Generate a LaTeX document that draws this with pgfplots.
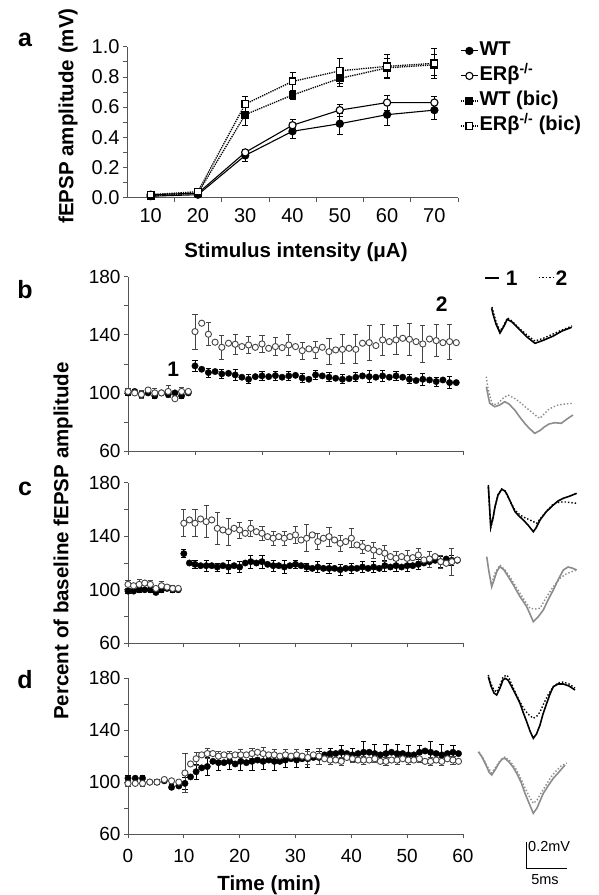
\documentclass[border=0pt]{standalone}
\usepackage{pgfplots}
\pgfplotsset{compat=1.18}
\usepackage{pgfplotstable}
\usepackage{fontspec}
\setmainfont{Liberation Sans}
\definecolor{axgray}{HTML}{555555}
\definecolor{opengray}{HTML}{444444}
\definecolor{tracegray}{HTML}{8C8C8C}
\newcommand{\fs}[1]{\fontsize{#1}{#1}\selectfont}

\pgfplotsset{
  /pgf/number format/assume math mode=true,
  myax/.style={scale only axis, axis lines*=left,
    axis line style={axgray, line width=0.8pt},
    tick style={axgray, line width=0.7pt}, tick align=outside,
    major tick length=4pt, minor tick length=4pt,
    tick label style={font=\fs{19}, black}, clip=false},
  tcax/.style={myax, width=335pt, xmin=0, xmax=60, ymin=60, ymax=180,
    ytick={60,100,140,180}, minor ytick={80,120,160}},
  ebwt/.style={only marks, mark=none, forget plot, each nth point=2, filter discard warning=false,
    unbounded coords=discard,
    error bars/.cd, y dir=both, y explicit,
    error bar style={black, line width=0.8pt},
    error mark options={rotate=90, mark size=2.6pt, line width=0.8pt, black}},
  ebko/.style={only marks, mark=none, forget plot, each nth point=2, filter discard warning=false,
    unbounded coords=discard,
    error bars/.cd, y dir=both, y explicit,
    error bar style={opengray, line width=0.8pt},
    error mark options={rotate=90, mark size=2.6pt, line width=0.8pt, opengray}},
  mkwt/.style={only marks, mark=*, mark size=3.2pt, mark options={fill=black, draw=black}},
  mkko/.style={only marks, mark=*, mark size=3.1pt, mark options={fill=white, draw=opengray, line width=0.9pt}},
}

\pgfplotstableread{
t wt ewt ko eko
0 100 2 101 2
1.2 101 2 100 2
2.4 99 2 99 3
3.6 100 2 102 2
4.8 98 2 100 3
6.0 100 2 100 2
7.2 99 2 101 4
8.4 100 3 96 3
9.6 98 2 101 3
10.8 100 2 101 2
12.0 118.6 4 142.2 12
13.2 116.3 3 148 6
14.4 114 3 140.4 8
15.6 114.7 5 134.9 5
16.8 113.1 3 131.4 8
18.0 113.5 3 134.2 5
19.2 112.4 4 133.5 7
20.4 110.8 3 131.9 5
21.6 109.4 3 133 6
22.8 111.2 3 131.4 5
24.0 111.7 3 133.7 6
25.2 111.2 3 130.7 5
26.4 111.9 3 131.9 6
27.6 110.8 3 131.2 5
28.8 111.7 3 133 7
30.0 112.1 3 131.9 5
31.2 110.3 3 129.1 6
32.4 109.4 3 130.3 7
33.6 112.4 3 129.6 6
34.8 111.7 3 131.4 6
36.0 110.8 3 128.4 9
37.2 110.1 3 129.6 6
38.4 109.4 3 130 10
39.6 109.8 3 130.7 7
40.8 110.8 3 130 10
42.0 111.7 3 134.2 8
43.2 111.2 4 134.6 12
44.4 110.8 3 132.6 8
45.6 111.7 4 136.5 11
46.8 110.8 3 135.3 8
48.0 111.7 3 136.5 10
49.2 110.8 3 137.6 8
50.4 109.4 3 136.9 11
51.6 108.5 3 135.3 8
52.8 109.4 4 133.7 13
54.0 108.9 3 137.1 8
55.2 107.8 3 136 11
56.4 108.9 3 134.6 8
57.6 107.1 4 135.3 12
58.8 107.1 3 134.6 8
}\tabB

\pgfplotstableread{
t wt ewt ko eko
0 99 2 104 3
1 99 2 103 2
2 100 2 104 4
3 100 2 105 3
4 100 2 104 3
5 98 2 101 3
6 100 2 103 3
7 101 2 102 2
8 100 2 101 2
9 100 2 101 2
10 127 3 149.7 10
11 120 3 152.2 5
12 119 3 149.7 10
13 118 3 152.9 5
14 118 4 150.9 12
15 118 4 152.2 5
16 117 3 145.9 12
17 118 4 144.7 5
18 117 5 143.4 10
19 118 4 145.9 5
20 117 4 144.7 6
21 120 4 142.2 5
22 121 5 145.9 6
23 120 5 143.4 5
24 121 5 142.2 5
25 119 5 139.7 5
26 118 4 138.5 5
27 118 4 139.7 5
28 117 5 138.5 5
29 118 4 139.7 5
30 119 3 141 6
31 118 3 137.2 5
32 117 3 138.5 10
33 116 3 141 5
34 117 4 136 6
35 116 3 138.5 5
36 116 4 139.7 7
37 116 3 137.2 5
38 115 4 134.7 6
39 116 3 136 5
40 116 4 138.5 7
41 116 3 133.5 5
42 117 4 132.2 5
43 116 3 131 5
44 117 4 129.7 6
45 116 3 128.5 6
46 118 4 127.3 6
47 117 3 124.8 5
48 118 4 123.5 5
49 117 3 124.8 5
50 118 4 123.5 6
51 118 3 124 5
52 119 4 126 5
53 120 3 122.3 5
54 121 4 123 6
55 122 3 124.8 5
56 121 4 121 5
57 123 3 119.8 5
58 122 4 121 10
59 122 3 122.3 5
}\tabC

\pgfplotstableread{
t wt ewt ko eko
0 103 2 99 2
1.3 103 2 99 2
2.6 103 2 99 2
3.9 100 2 100 2
5.2 100 2 100 2
6.5 101 2 102 2
7.8 96 2 101 2
9.1 97 2 100 2
10.2 99 5 107 15
11.2 104 4 114 4
12.2 108 6 118 5
13.2 111 5 121 4
14.2 112 7 122 4
15.2 116 5 122 4
16.2 115 6 120 4
17.2 115 5 121 4
18.2 116 6 120 4
19.2 114 5 121 4
20.2 116 7 121 4
21.2 115 5 121 4
22.2 116 7 122 4
23.2 117 5 123 4
24.2 116 6 122 5
25.2 117 5 121 4
26.2 116 7 121 4
27.2 116 5 120 4
28.2 117 6 121 4
29.2 118 5 120 4
30.2 117 6 121 4
31.2 118 5 120 4
32.2 118 7 119 5
33.2 119 5 121 4
34.2 119 5 120 6
35.2 121 5 118 4
36.2 122 4 117 3
37.2 122 5 117 3
38.2 123 5 116 3
39.2 122 5 119 3
40.2 121 5 118 3
41.2 122 5 117 3
42.2 123 8 117 3
43.2 123 5 117 3
44.2 122 7 118 3
45.2 121 5 116 3
46.2 122 7 116 3
47.2 123 5 117 3
48.2 122 7 117 3
49.2 122 5 118 3
50.2 121 7 117 3
51.2 121 5 117 3
52.2 123 5 118 3
53.2 124 5 116 3
54.2 123 8 116 3
55.2 122 5 117 3
56.2 121 8 116 3
57.2 122 5 118 3
58.2 123 5 117 3
59.2 122 5 116 3
}\tabD

\begin{document}
\begin{tikzpicture}
\path[use as bounding box] (0pt,0pt) rectangle (598pt,-895pt);

% ---------------- panel a ----------------
\begin{axis}[myax, at={(127pt,-197.7pt)}, anchor=south west,
  width=331pt, height=151pt, xmin=5, xmax=75, ymin=0, ymax=1,
  xtick={10,20,30,40,50,60,70}, major x tick style={draw=none},
  minor xtick={15,25,35,45,55,65,75},
  ytick={0,0.2,0.4,0.6,0.8,1}, minor ytick={0.1,0.3,0.5,0.7,0.9},
  yticklabel style={/pgf/number format/.cd, fixed, fixed zerofill, precision=1},
  tick label style={font=\fs{20}},
  xticklabel style={yshift=-3pt},
  legend style={at={(1,1)}, anchor=north west, xshift=2pt, yshift=6pt,
    draw=none, fill=none, inner sep=0pt, font=\fs{20}\bfseries, row sep=5pt,
    nodes={inner sep=1pt, text height=14pt, text depth=4pt}},
  legend cell align=left]
\addplot[black, line width=1.1pt, mark=*, mark size=3.6pt,
  error bars/.cd, y dir=both, y explicit, error bar style={line width=0.8pt},
  error mark options={rotate=90, mark size=3pt, line width=0.8pt}]
  coordinates {(10,0.01) +- (0,0.005) (20,0.02) +- (0,0.01) (30,0.28) +- (0,0.04)
  (40,0.44) +- (0,0.05) (50,0.49) +- (0,0.07) (60,0.55) +- (0,0.07) (70,0.58) +- (0,0.06)};
\addplot[black, line width=1.1pt, mark=*, mark size=3.6pt, mark options={fill=white},
  error bars/.cd, y dir=both, y explicit, error bar style={line width=0.8pt},
  error mark options={rotate=90, mark size=3pt, line width=0.8pt}]
  coordinates {(10,0.02) +- (0,0.005) (20,0.03) +- (0,0.01) (30,0.30) +- (0,0.02)
  (40,0.48) +- (0,0.04) (50,0.58) +- (0,0.04) (60,0.63) +- (0,0.05) (70,0.63) +- (0,0.04)};
\addplot[black, line width=1.3pt, densely dotted, mark=square*, mark size=3.3pt, mark options={solid},
  error bars/.cd, y dir=both, y explicit, error bar style={line width=0.8pt, solid},
  error mark options={rotate=90, mark size=3pt, line width=0.8pt, solid}]
  coordinates {(10,0.01) +- (0,0.005) (20,0.03) +- (0,0.01) (30,0.55) +- (0,0.07)
  (40,0.68) +- (0,0.03) (50,0.79) +- (0,0.05) (60,0.86) +- (0,0.06) (70,0.88) +- (0,0.07)};
\addplot[black, line width=1.3pt, densely dotted, mark=square*, mark size=3.3pt, mark options={solid, fill=white},
  error bars/.cd, y dir=both, y explicit, error bar style={line width=0.8pt, solid},
  error mark options={rotate=90, mark size=3pt, line width=0.8pt, solid}]
  coordinates {(10,0.02) +- (0,0.005) (20,0.04) +- (0,0.01) (30,0.62) +- (0,0.05)
  (40,0.77) +- (0,0.06) (50,0.84) +- (0,0.08) (60,0.87) +- (0,0.08) (70,0.89) +- (0,0.10)};
\legend{WT, ERβ\textsuperscript{-/-}, WT (bic), ERβ\textsuperscript{-/-} (bic)}
\end{axis}

% ---------------- panel b ----------------
\begin{axis}[tcax, at={(128pt,-451pt)}, anchor=south west, height=174.3pt,
  xtick={0,12,24,36,48,60}, xticklabels={}]
\addplot[ebwt] table[x=t, y=wt, y error=ewt] {\tabB};
\addplot[ebko] table[x=t, y=ko, y error=eko] {\tabB};
\addplot[mkwt] table[x=t, y=wt] {\tabB};
\addplot[mkko] table[x=t, y=ko] {\tabB};
\node[font=\fs{21}\bfseries] at (axis cs:8.1,116.2) {1};
\node[font=\fs{21}\bfseries] at (axis cs:56.2,161.2) {2};
\end{axis}

% ---------------- panel c ----------------
\begin{axis}[tcax, at={(128pt,-643.3pt)}, anchor=south west, height=160.6pt,
  xtick={0,10,20,30,40,50,60}, xticklabels={}]
\addplot[ebwt] table[x=t, y=wt, y error=ewt] {\tabC};
\addplot[ebko] table[x=t, y=ko, y error=eko] {\tabC};
\addplot[mkwt] table[x=t, y=wt] {\tabC};
\addplot[mkko] table[x=t, y=ko] {\tabC};
\end{axis}

% ---------------- panel d ----------------
\begin{axis}[tcax, at={(128pt,-834pt)}, anchor=south west, height=155.7pt,
  xtick={0,10,20,30,40,50,60}, xticklabel style={yshift=-8pt}]
\addplot[ebwt] table[x=t, y=wt, y error=ewt] {\tabD};
\addplot[ebko] table[x=t, y=ko, y error=eko] {\tabD};
\addplot[mkwt] table[x=t, y=wt] {\tabD};
\addplot[mkko] table[x=t, y=ko] {\tabD};
\end{axis}

% ---------------- traces ----------------
\begin{axis}[at={(470pt,-895pt)}, anchor=south west, scale only axis,
  width=128pt, height=635pt, xmin=470, xmax=598, ymin=-895, ymax=-260,
  hide axis, clip=false]
% b
\addplot[black, line width=1.4pt, dotted] coordinates {(492,-307) (493.5,-313) (496.5,-323) (500,-331) (504,-325) (507.5,-318) (512,-321) (520,-329) (527,-335) (535,-341) (544,-338) (553,-334) (562,-330) (572,-326)};
\addplot[black, line width=1.6pt] coordinates {(491.7,-308.3) (493,-314) (496,-324) (500,-333) (503.5,-327) (507.3,-319.3) (512,-322) (520,-330) (527,-337) (535,-343.3) (544,-340) (553.3,-336) (562,-331) (571.7,-327.3)};
\addplot[tracegray, line width=1.4pt, dotted] coordinates {(486.3,-376.7) (488,-388.3) (491,-400) (493,-405) (498,-403.3) (503,-398.3) (508,-395) (514,-398) (521.3,-403.3) (526,-407.5) (531.3,-411.7) (535,-415) (539.7,-418.3) (544,-414) (548,-410) (553,-407) (558,-405) (565,-404) (573,-403.3)};
\addplot[tracegray, line width=1.6pt] coordinates {(486.3,-386.7) (489.7,-403.3) (494.7,-406.7) (499.7,-405) (504.7,-401.7) (509,-404) (514.7,-410) (519,-416) (524.7,-423.3) (529,-428) (534.7,-433.3) (540,-430.5) (544.7,-426.7) (549,-424) (554.7,-422.7) (561.3,-423.3) (567,-419) (573,-415)};
% c
\addplot[black, line width=1.4pt, dotted] coordinates {(488.3,-487) (490.7,-528) (493,-519) (495,-507) (498,-495) (501.7,-489) (505,-491) (507.5,-496) (511,-503) (515,-510) (519,-514) (523.3,-517) (530,-520) (536.7,-523.3) (540,-519) (546.7,-511) (553.3,-504) (560,-502) (566,-502) (576.7,-503.3)};
\addplot[black, line width=1.6pt] coordinates {(488.3,-485) (490.7,-526.7) (493,-518) (495,-506.7) (498,-495) (501.7,-489.3) (505,-491) (507.3,-495) (511,-503) (515,-511.7) (519,-516) (523.3,-520) (528,-525) (533.3,-531.7) (536,-528) (540,-520) (546,-512) (553.3,-505) (558,-501) (563.3,-498.3) (570,-496) (576.7,-493.3)};
\addplot[tracegray, line width=1.4pt, dotted] coordinates {(491.7,-583.3) (495,-573) (500,-565) (505,-570) (510,-577) (515,-585) (520,-593.3) (525,-601) (530,-608.3) (535,-609) (540,-608.3) (546.7,-596.7) (553,-587) (560,-578.3) (566,-574) (571,-572) (576.7,-570)};
\addplot[tracegray, line width=1.6pt] coordinates {(486.7,-556.7) (489,-572) (491.7,-586.7) (494,-580) (497,-571) (500,-566.7) (504,-570) (508.3,-576.7) (514,-586) (520,-596.7) (523,-601) (526.7,-606.7) (530,-614) (533.3,-621.7) (538,-617) (543.3,-610) (548,-600) (553.3,-590) (558,-580) (563.3,-570) (568,-567) (572,-568) (576.7,-570)};
% d
\addplot[black, line width=1.4pt, dotted] coordinates {(488.3,-675) (491,-684) (494,-690) (496.7,-692) (500,-685) (503,-677) (506.7,-675) (509,-678) (512,-685) (516,-694) (520,-702) (524,-709) (528,-714) (533.3,-718.3) (537,-716) (540,-712) (544,-703) (548,-695) (553,-687) (558,-683) (563,-682) (569,-684) (575,-688)};
\addplot[black, line width=1.6pt] coordinates {(488.3,-676.7) (491,-686) (494,-693) (496.7,-695) (500,-688) (503,-680) (505,-678.3) (508,-680) (511.7,-686.7) (516,-695) (520,-703.3) (523,-712) (526.7,-721.7) (530,-731) (533.3,-738.3) (536.5,-734) (540,-725) (543,-714) (546.7,-703.3) (550,-694) (553.3,-686.7) (558,-684) (563.3,-684) (569,-686) (575,-690)};
\addplot[tracegray, line width=1.4pt, dotted] coordinates {(479,-752) (483,-758) (487,-766) (491.7,-773) (495,-768) (500,-761) (505,-757) (510,-761) (516.7,-770) (521,-779) (525,-788) (529,-796) (533.3,-803.3) (537,-800) (541,-793) (546,-785) (551,-777) (556,-771) (561,-766) (566.7,-763)};
\addplot[tracegray, line width=1.6pt] coordinates {(478.3,-751.7) (482,-757) (486,-765) (489,-772) (491.7,-775) (495,-770) (499,-763) (502,-759) (505,-758.3) (509,-762) (513,-767) (516.7,-773.3) (521,-782) (525,-793.3) (529,-803) (533.3,-813.3) (537,-808) (540,-801) (543.3,-793.3) (548,-786) (553.3,-778.3) (559,-772) (565,-765)};
% trace legend
\draw[black, line width=2pt] (axis cs:485,-277.7) -- (axis cs:499,-277.7);
\node[font=\fs{21}\bfseries] at (axis cs:511.7,-278) {1};
\draw[black, line width=1.4pt, dotted] (axis cs:539,-277.7) -- (axis cs:553,-277.7);
\node[font=\fs{21}\bfseries] at (axis cs:561.5,-278) {2};
% scale bar
\draw[black, line width=1pt] (axis cs:526,-841.7) -- (axis cs:526,-868.3) -- (axis cs:566.7,-868.3);
\node[font=\fs{14.5}, anchor=west, inner sep=0pt] at (axis cs:528,-846) {0.2mV};
\node[font=\fs{14.5}] at (axis cs:545,-880) {5ms};
\end{axis}

% ---------------- labels ----------------
\node[font=\fs{25}\bfseries] at (25pt,-40pt) {a};
\node[font=\fs{25}\bfseries] at (25pt,-290pt) {b};
\node[font=\fs{25}\bfseries] at (25pt,-489pt) {c};
\node[font=\fs{25}\bfseries] at (25pt,-680pt) {d};
\node[font=\fs{20.5}\bfseries, rotate=90] at (68pt,-116pt) {fEPSP amplitude (mV)};
\node[font=\fs{20.5}\bfseries] at (296pt,-252pt) {Stimulus intensity (μA)};
\node[font=\fs{20.5}\bfseries, rotate=90] at (63pt,-541pt) {Percent of baseline fEPSP amplitude};
\node[font=\fs{20.5}\bfseries] at (269pt,-885pt) {Time (min)};
\end{tikzpicture}
\end{document}
